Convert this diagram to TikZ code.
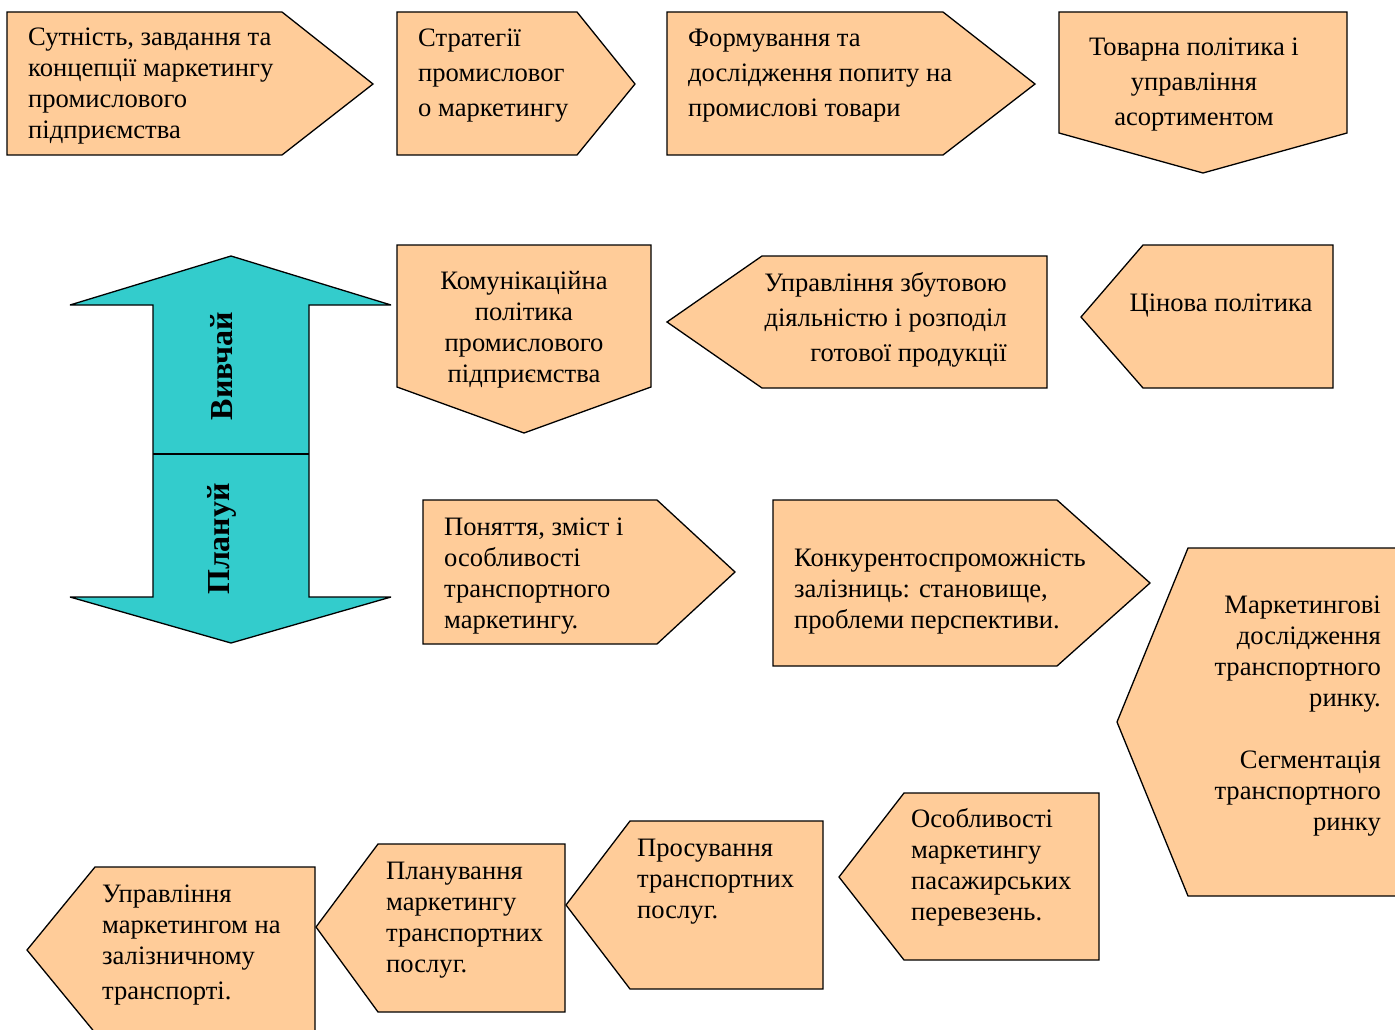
\documentclass[tikz,border=0pt]{standalone}
\usepackage{fontspec}
\setmainfont{Liberation Serif}
\definecolor{peach}{HTML}{FFCC99}
\definecolor{tealfill}{HTML}{33CCCC}
\newcommand\mylt[1]{\begin{tabular}[t]{@{}l@{}}#1\end{tabular}}
\newcommand\myrt[1]{\begin{tabular}[t]{@{}r@{}}#1\end{tabular}}
\newcommand\myct[1]{\begin{tabular}[t]{@{}c@{}}#1\end{tabular}}
\begin{document}
\begin{tikzpicture}[x=1pt,y=-1pt,
  shp/.style={draw=black, line width=1.3pt, fill=peach, line join=miter},
  arr/.style={draw=black, line width=1.3pt, fill=tealfill, line join=miter, miter limit=4},
  txt/.style={inner sep=0pt, font=\fontsize{26.6}{31}\selectfont},
  txtw/.style={inner sep=0pt, font=\fontsize{26.6}{35}\selectfont},
  vtxt/.style={inner sep=0pt, rotate=90, font=\fontsize{32}{34}\selectfont\bfseries}]
\useasboundingbox (0,0) rectangle (1395,1030);
\clip (0,0) rectangle (1395,1030);
% shapes
\draw[shp] (7,12) -- (282,12) -- (373,84) -- (282,155) -- (7,155) -- cycle;
\draw[shp] (397,12) -- (577,12) -- (635,84) -- (577,155) -- (397,155) -- cycle;
\draw[shp] (667,12) -- (943,12) -- (1035,84) -- (943,155) -- (667,155) -- cycle;
\draw[shp] (1059,12) -- (1347,12) -- (1347,133) -- (1203,173) -- (1059,133) -- cycle;
\draw[shp] (397,245) -- (651,245) -- (651,387) -- (524,433) -- (397,387) -- cycle;
\draw[shp] (667,322) -- (762,256) -- (1047,256) -- (1047,388) -- (762,388) -- cycle;
\draw[shp] (1081,317) -- (1143,245) -- (1333,245) -- (1333,388) -- (1143,388) -- cycle;
\draw[shp] (423,500) -- (657,500) -- (735,572) -- (657,644) -- (423,644) -- cycle;
\draw[shp] (773,500) -- (1057,500) -- (1150,583) -- (1057,666) -- (773,666) -- cycle;
\draw[shp] (1117,722) -- (1188,548) -- (1420,548) -- (1420,896) -- (1188,896) -- cycle;
\draw[shp] (839,877) -- (904,793) -- (1099,793) -- (1099,960) -- (904,960) -- cycle;
\draw[shp] (566,905) -- (630,821) -- (823,821) -- (823,989) -- (630,989) -- cycle;
\draw[shp] (316,927) -- (378,844) -- (565,844) -- (565,1012) -- (378,1012) -- cycle;
\draw[shp] (27,950) -- (95,867) -- (315,867) -- (315,1040) -- (101,1040) -- cycle;
% double arrow
\draw[arr] (231,256) -- (391,305) -- (309,305) -- (309,597) -- (391,597) -- (231,643)
  -- (70,597) -- (153,597) -- (153,305) -- (70,305) -- cycle;
\coordinate (divl) at (153,454);
\coordinate (divr) at (309,454);
\draw[line width=1.3pt] (divl) -- (divr);
\node[vtxt] (study) at (222,366) {Вивчай};
\node[vtxt] (plan) at (222,539) {Плануй};
% texts
\node[txt, anchor=base west] (tA) at (28,46) {\mylt{Сутність, завдання та\\ концепції маркетингу\\ промислового\\ підприємства}};
\node[txtw, anchor=base west] (tB) at (418,47) {\mylt{Стратегії\\ промисловог\\ о маркетингу}};
\node[txtw, anchor=base west] (tC) at (688,47) {\mylt{Формування та\\ дослідження попиту на\\ промислові товари}};
\node[txtw, anchor=base] (tD) at (1194,56) {\myct{Товарна політика і\\ управління\\ асортиментом}};
\node[txt, anchor=base] (tE) at (524,289) {\myct{Комунікаційна\\ політика\\ промислового\\ підприємства}};
\node[txtw, anchor=base east] (tF) at (1007,291) {\myrt{Управління збутовою\\ діяльністю і розподіл\\ готової продукції}};
\node[txt, anchor=base] (tG) at (1221,311) {Цінова політика};
\node[txt, anchor=base west] (tH) at (444,535) {\mylt{Поняття, зміст і\\ особливості\\ транспортного\\ маркетингу.}};
\node[txt, anchor=base west] (tI) at (794,566) {\mylt{Конкурентоспроможність\\ залізниць: становище,\\ проблеми перспективи.}};
\node[txt, anchor=base east] (tJ) at (1381,613) {\myrt{Маркетингові\\ дослідження\\ транспортного\\ ринку.\\ \\ Сегментація\\ транспортного\\ ринку}};
\node[txt, anchor=base west] (tK) at (911,827) {\mylt{Особливості\\ маркетингу\\ пасажирських\\ перевезень.}};
\node[txt, anchor=base west] (tL) at (637,856) {\mylt{Просування\\ транспортних\\ послуг.}};
\node[txt, anchor=base west] (tM) at (386,879) {\mylt{Планування\\ маркетингу\\ транспортних\\ послуг.}};
\node[txt, anchor=base west] (tN) at (102,902) {\mylt{Управління\\ маркетингом на\\ залізничному\\[4pt] транспорті.}};
\end{tikzpicture}
\end{document}
